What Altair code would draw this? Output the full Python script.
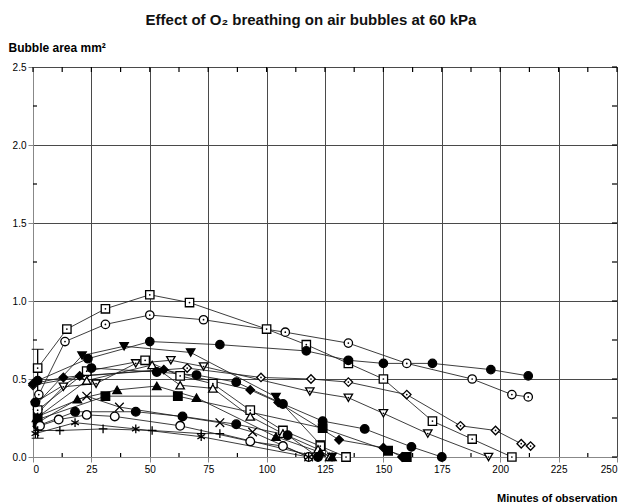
import altair as alt
import pandas as pd

# ---- data ----
sqA_t = [2, 14.5, 31, 50, 67, 100, 117, 135, 150, 171, 188, 205]
sqA_v = [0.57, 0.82, 0.95, 1.04, 0.99, 0.82, 0.72, 0.60, 0.50, 0.23, 0.115, 0.0]
ocB_t = [2.5, 13.7, 31, 50, 73, 108, 135, 160, 188, 205, 212]
ocB_v = [0.40, 0.74, 0.85, 0.91, 0.88, 0.80, 0.73, 0.60, 0.50, 0.40, 0.385]
fcC_t = [2, 23.5, 50, 80, 117, 135, 150, 171, 196, 212]
fcC_v = [0.49, 0.63, 0.74, 0.72, 0.68, 0.62, 0.60, 0.60, 0.56, 0.52]
ftD_t = [1, 21, 39, 67.5, 104, 123, 128]
ftD_v = [0.33, 0.65, 0.71, 0.67, 0.385, 0.08, 0.0]
otE_t = [2, 13, 27, 44, 59, 73, 118.5, 135, 150, 169, 195]
otE_v = [0.28, 0.45, 0.47, 0.60, 0.62, 0.58, 0.42, 0.38, 0.28, 0.15, 0.0]
odF_t = [0, 22, 66, 97.6, 119, 135, 160, 183, 198, 209, 213]
odF_v = [0.46, 0.52, 0.57, 0.51, 0.50, 0.48, 0.40, 0.20, 0.17, 0.085, 0.07]
sqG_t = [2, 23, 48, 63, 77, 93, 107, 123, 134]
sqG_v = [0.30, 0.55, 0.62, 0.52, 0.47, 0.30, 0.17, 0.07, 0.0]
otH_t = [1.5, 23, 51, 63, 77, 93, 107, 122, 127]
otH_v = [0.25, 0.49, 0.59, 0.46, 0.44, 0.26, 0.15, 0.05, 0.0]
ftI_t = [2, 19, 36, 53, 70, 104, 123, 128]
ftI_v = [0.22, 0.37, 0.43, 0.455, 0.38, 0.13, 0.03, 0.0]
fsJ_t = [2, 31, 62, 124, 152, 160]
fsJ_v = [0.24, 0.39, 0.39, 0.185, 0.04, 0.0]
fcK_t = [1, 25, 53, 70, 87, 107, 124, 142, 162, 175]
fcK_v = [0.35, 0.57, 0.545, 0.525, 0.48, 0.34, 0.23, 0.18, 0.065, 0.0]
fdL_t = [0, 13, 20, 56, 93, 105, 131, 150, 158]
fdL_v = [0.47, 0.51, 0.52, 0.56, 0.43, 0.35, 0.11, 0.06, 0.0]
xM_t = [2, 23, 37, 80, 94, 118]
xM_v = [0.26, 0.39, 0.32, 0.22, 0.16, 0.0]
fcN_t = [2, 18, 44, 64, 87, 109, 122]
fcN_v = [0.20, 0.29, 0.29, 0.26, 0.21, 0.14, 0.0]
ocO_t = [3, 11, 23, 35, 63, 93, 107, 118]
ocO_v = [0.20, 0.24, 0.27, 0.26, 0.20, 0.10, 0.07, 0.0]
plP_t = [2, 11.5, 30, 51, 72, 80, 122]
plP_v = [0.17, 0.17, 0.18, 0.17, 0.15, 0.15, 0.0]
stQ_t = [1, 18, 44, 72, 118]
stQ_v = [0.15, 0.22, 0.18, 0.13, 0.0]

err_t = [2]
err_lo = [0.12]
err_hi = [0.69]

# axis tick values
x_major = [0, 25, 50, 75, 100, 125, 150, 175, 200, 225, 250]
x_minor = [12.5, 37.5, 62.5, 87.5, 112.5, 137.5, 162.5, 187.5, 212.5, 237.5]
y_major = [0, 0.5, 1.0, 1.5, 2.0, 2.5]
y_minor = [0.25, 0.75, 1.25, 1.75, 2.25]

X_PATH = "M-1,-1L1,1M-1,1L1,-1"
PLUS_PATH = "M-1,0L1,0M0,-1L0,1"
STAR_PATH = "M0,-1L0,1M-0.87,-0.5L0.87,0.5M-0.87,0.5L0.87,-0.5"

series = [
    # name, t, v, shape, fill, size, dotted
    ("A", sqA_t, sqA_v, "square", "white", 70, True),
    ("B", ocB_t, ocB_v, "circle", "white", 75, True),
    ("C", fcC_t, fcC_v, "circle", "black", 90, False),
    ("D", ftD_t, ftD_v, "triangle-down", "black", 14, False),
    ("E", otE_t, otE_v, "triangle-down", "white", 65, True),
    ("F", odF_t, odF_v, "diamond", "white", 70, True),
    ("G", sqG_t, sqG_v, "square", "white", 70, True),
    ("H", otH_t, otH_v, "triangle-up", "white", 55, False),
    ("I", ftI_t, ftI_v, "triangle-up", "black", 14, False),
    ("J", fsJ_t, fsJ_v, "square", "black", 40, False),
    ("K", fcK_t, fcK_v, "circle", "black", 30, False),
    ("L", fdL_t, fdL_v, "diamond", "black", 30, False),
    ("M", xM_t, xM_v, X_PATH, "black", 18, False),
    ("N", fcN_t, fcN_v, "circle", "black", 65, False),
    ("O", ocO_t, ocO_v, "circle", "white", 60, False),
    ("P", plP_t, plP_v, PLUS_PATH, "black", 36, False),
    ("Q", stQ_t, stQ_v, STAR_PATH, "black", 16, False),
]

rows = []
for name, ts, vs, shp, fil, sz, dot in series:
    for i, (t, v) in enumerate(zip(ts, vs)):
        rows.append({"series": name, "t": t, "v": v, "order": i, "dotted": dot})
df = pd.DataFrame(rows)

names = [s[0] for s in series]
shapes = [s[3] for s in series]
fills = [s[4] for s in series]
sizes = [s[5] for s in series]

err_df = pd.DataFrame({"t": err_t, "lo": err_lo, "hi": err_hi})

FONT = "Liberation Sans"
W, H = 584, 390

x_enc = alt.X(
    "t:Q",
    scale=alt.Scale(domain=[0, 250], nice=False, zero=False),
    axis=alt.Axis(
        values=x_major, format="d",
        title="Minutes of observation",
        titleX=W, titleY=44, titleAlign="right", titleBaseline="alphabetic",
        grid=True, gridColor="#4a4a4a", gridWidth=1, tickSize=5,
    ),
)
y_enc = alt.Y(
    "v:Q",
    scale=alt.Scale(domain=[0, 2.5], nice=False, zero=False),
    axis=alt.Axis(
        values=y_major, format=".1f",
        title="Bubble area mm²",
        titleAngle=0, titleX=-25, titleY=-16, titleAlign="left", titleBaseline="alphabetic",
        titleFontSize=12,
        grid=True, gridColor="#4a4a4a", gridWidth=1, tickSize=5,
    ),
)

base = alt.Chart(df)

lines = base.mark_line(color="#1a1a1a", strokeWidth=0.85).encode(
    x=x_enc, y=y_enc, detail="series:N", order="order:Q"
)

points = base.mark_point(filled=True, stroke="black", strokeWidth=1.3, opacity=1).encode(
    x="t:Q",
    y="v:Q",
    shape=alt.Shape("series:N", scale=alt.Scale(domain=names, range=shapes), legend=None),
    fill=alt.Fill("series:N", scale=alt.Scale(domain=names, range=fills), legend=None),
    size=alt.Size("series:N", scale=alt.Scale(domain=names, range=sizes), legend=None),
)

dots = base.transform_filter("datum.dotted").mark_point(
    filled=True, color="black", size=3, shape="circle", opacity=1
).encode(x="t:Q", y="v:Q")

errbar = alt.Chart(err_df).mark_rule(color="black", strokeWidth=1.3).encode(
    x="t:Q", y="lo:Q", y2="hi:Q"
)
errcap_lo = alt.Chart(err_df).mark_tick(color="black", thickness=1.3, size=12, orient="horizontal").encode(
    x="t:Q", y="lo:Q"
)
errcap_hi = alt.Chart(err_df).mark_tick(color="black", thickness=1.3, size=12, orient="horizontal").encode(
    x="t:Q", y="hi:Q"
)

# inward ticks: minor on bottom/left, all on top/right
xall_df = pd.DataFrame({"t": x_major + x_minor})
xmin_df = pd.DataFrame({"t": x_minor})
yall_df = pd.DataFrame({"v": y_major + y_minor})
ymin_df = pd.DataFrame({"v": y_minor})

tick_style = dict(color="black", strokeWidth=1.2)
top_ticks = alt.Chart(xall_df).mark_rule(**tick_style).encode(
    x="t:Q", y=alt.value(0), y2=alt.value(5))
bot_ticks = alt.Chart(xmin_df).mark_rule(**tick_style).encode(
    x="t:Q", y=alt.value(H), y2=alt.value(H - 4))
right_ticks = alt.Chart(yall_df).mark_rule(**tick_style).encode(
    y="v:Q", x=alt.value(W), x2=alt.value(W - 5))
left_ticks = alt.Chart(ymin_df).mark_rule(**tick_style).encode(
    y="v:Q", x=alt.value(0), x2=alt.value(4))

chart = alt.layer(
    lines, top_ticks, bot_ticks, right_ticks, left_ticks,
    errbar, errcap_lo, errcap_hi, points, dots
).properties(
    width=W,
    height=H,
    autosize=alt.AutoSizeParams(type="none"),
    padding={"left": 33, "top": 67, "right": 20, "bottom": 47},
    title=alt.TitleParams(
        "Effect of O₂ breathing on air bubbles at 60 kPa",
        font=FONT, fontSize=15, fontWeight="bold", color="#111",
        anchor="middle", offset=13, dx=-14,
    ),
).configure_view(
    stroke="black", strokeWidth=2
).configure_axis(
    labelFont=FONT, labelFontSize=10.5, labelFontWeight="bold", labelColor="#222",
    titleFont=FONT, titleFontSize=11, titleFontWeight="bold", titleColor="#111",
    domainColor="black", domainWidth=2,
    tickColor="black", tickWidth=1.2,
    labelPadding=2,
).configure(background="white")

chart.save("out.html", embed_options={"renderer": "svg", "actions": False})
